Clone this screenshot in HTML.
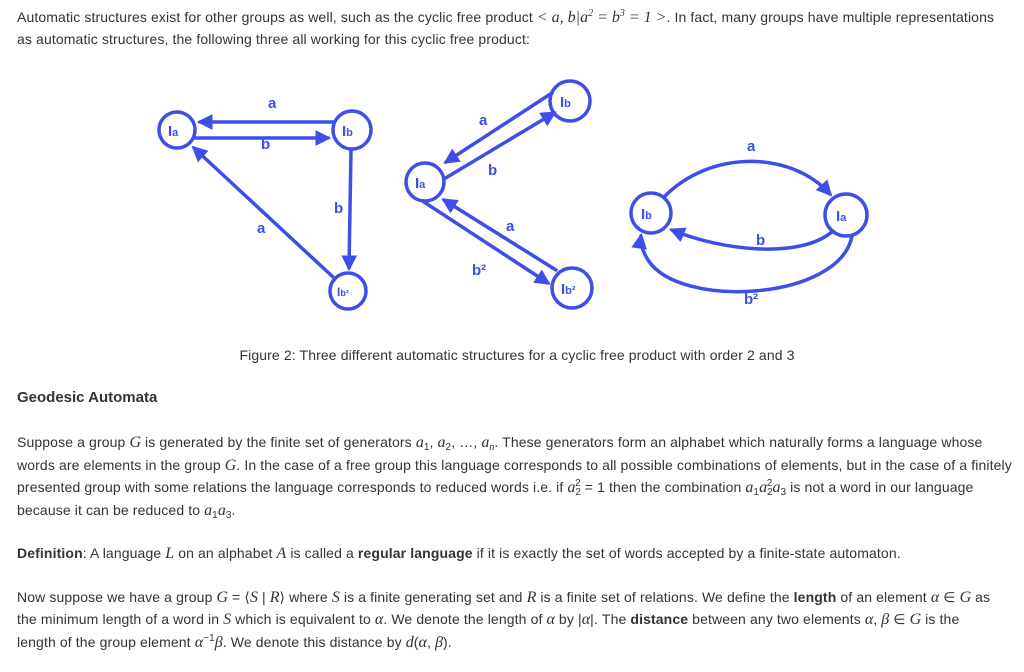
<!DOCTYPE html>
<html><head><meta charset="utf-8"><style>
body{margin:0;width:1024px;height:672px;background:#fff;position:relative;overflow:hidden;font-family:"Liberation Sans",sans-serif;font-size:14px;color:#333}
.l{position:absolute;left:17px;white-space:nowrap;line-height:18px;letter-spacing:0.12px}
i{font-family:"Liberation Serif",serif;font-size:16px;letter-spacing:0}
sub,sup{font-size:10px;line-height:0;position:relative;vertical-align:baseline}
sub{top:3px}sup{top:-6px}
svg{position:absolute;left:0;top:0}
.h{font-weight:bold;font-size:15px;letter-spacing:0}
</style></head><body>
<div class="l" style="top:8px">Automatic structures exist for other groups as well, such as the cyclic free product <i>&lt; a, b|a<sup>2</sup> = b<sup>3</sup> = 1 &gt;</i>. In fact, many groups have multiple representations</div>
<div class="l" style="top:30px">as automatic structures, the following three all working for this cyclic free product:</div>

<svg width="1024" height="340" viewBox="0 0 1024 340">
<defs><marker id="m" viewBox="0 0 10 10" refX="8" refY="5" markerWidth="4.5" markerHeight="4.5" orient="auto"><path d="M0,0L10,5L0,10z" fill="#3e4ee8"/></marker></defs>
<g fill="none" stroke="#3e4ee8" stroke-width="3.5" stroke-linecap="round">
<circle cx="177" cy="130" r="18" fill="#fff"/><circle cx="352" cy="130" r="19" fill="#fff"/><circle cx="348" cy="291" r="18" fill="#fff"/>
<path d="M333,122L200,122" marker-end="url(#m)"/><path d="M195,138L328,138" marker-end="url(#m)"/>
<path d="M351,150L349,268" marker-end="url(#m)"/><path d="M333,277L194,148" marker-end="url(#m)"/>
<circle cx="425" cy="182" r="19" fill="#fff"/><circle cx="570" cy="101" r="20" fill="#fff"/><circle cx="572" cy="288" r="20" fill="#fff"/>
<path d="M552,93L446,162" marker-end="url(#m)"/><path d="M444,179L554,113" marker-end="url(#m)"/>
<path d="M424,202L548,283" marker-end="url(#m)"/><path d="M556,270L444,200" marker-end="url(#m)"/>
<circle cx="651" cy="213" r="20" fill="#fff"/><circle cx="846" cy="215" r="21" fill="#fff"/>
<path d="M664,197C710,150 790,150 830,194" marker-end="url(#m)"/>
<path d="M833,231C800,260 720,250 672,230" marker-end="url(#m)"/>
<path d="M852,236C840,300 680,310 648,260C642,250 640,243 641,236" marker-end="url(#m)"/>
</g>
<g fill="#3e4ee8" font-family="Liberation Sans,sans-serif" font-weight="bold" font-size="15">
<text x="168" y="136">I<tspan font-size="11">a</tspan></text><text x="342" y="136">I<tspan font-size="11">b</tspan></text><text x="337" y="296" font-size="12">I<tspan font-size="9">b²</tspan></text>
<text x="415" y="188">I<tspan font-size="11">a</tspan></text><text x="560" y="107">I<tspan font-size="11">b</tspan></text><text x="561" y="294">I<tspan font-size="11">b²</tspan></text>
<text x="641" y="219">I<tspan font-size="11">b</tspan></text><text x="836" y="221">I<tspan font-size="11">a</tspan></text>
<text x="268" y="108">a</text><text x="261" y="149">b</text><text x="334" y="213">b</text><text x="257" y="233">a</text>
<text x="479" y="125">a</text><text x="488" y="175">b</text><text x="506" y="231">a</text><text x="472" y="275">b²</text>
<text x="747" y="151">a</text><text x="756" y="245">b</text><text x="744" y="304">b²</text>
</g>
</svg>

<div class="l" style="top:346px;left:0;width:1034px;text-align:center">Figure 2: Three different automatic structures for a cyclic free product with order 2 and 3</div>
<div class="l h" style="top:389px">Geodesic Automata</div>
<div class="l" style="top:433px">Suppose a group <i>G</i> is generated by the finite set of generators <i>a</i><sub>1</sub>, <i>a</i><sub>2</sub>, …, <i>a<sub>n</sub></i>. These generators form an alphabet which naturally forms a language whose</div>
<div class="l" style="top:456px">words are elements in the group <i>G</i>. In the case of a free group this language corresponds to all possible combinations of elements, but in the case of a finitely</div>
<div class="l" style="top:478px">presented group with some relations the language corresponds to reduced words i.e. if <i>a</i><sub>2</sub><sup style="margin-left:-6px">2</sup> = 1 then the combination <i>a</i><sub>1</sub><i>a</i><sub>2</sub><sup style="margin-left:-6px">2</sup><i>a</i><sub>3</sub> is not a word in our language</div>
<div class="l" style="top:501px">because it can be reduced to <i>a</i><sub>1</sub><i>a</i><sub>3</sub>.</div>
<div class="l" style="top:544px"><b>Definition</b>: A language <i>L</i> on an alphabet <i>A</i> is called a <b>regular language</b> if it is exactly the set of words accepted by a finite-state automaton.</div>
<div class="l" style="top:588px">Now suppose we have a group <i>G</i> = ⟨<i>S</i> | <i>R</i>⟩ where <i>S</i> is a finite generating set and <i>R</i> is a finite set of relations. We define the <b>length</b> of an element <i>α</i> ∈ <i>G</i> as</div>
<div class="l" style="top:610px">the minimum length of a word in <i>S</i> which is equivalent to <i>α</i>. We denote the length of <i>α</i> by |<i>α</i>|. The <b>distance</b> between any two elements <i>α</i>, <i>β</i> ∈ <i>G</i> is the</div>
<div class="l" style="top:633px">length of the group element <i>α</i><sup>−1</sup><i>β</i>. We denote this distance by <i>d</i>(<i>α</i>, <i>β</i>).</div>
</body></html>
